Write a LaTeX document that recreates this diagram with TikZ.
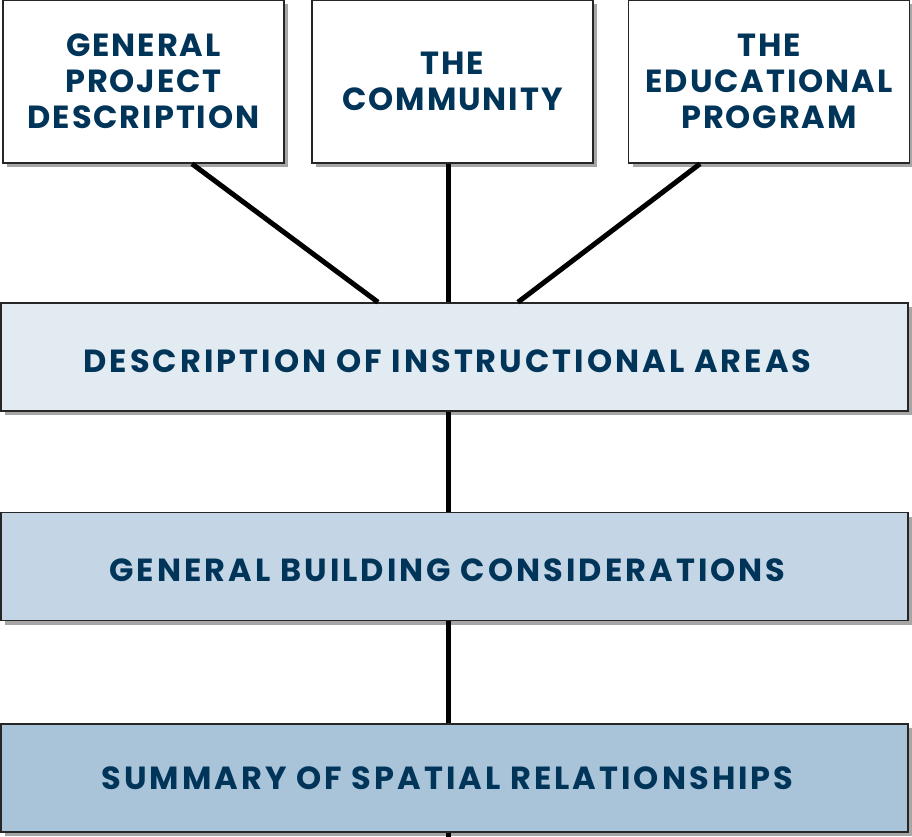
\documentclass[tikz,border=0pt]{standalone}
\usepackage{fontspec}
\setmainfont{Poppins}[UprightFont=* Bold]
\usetikzlibrary{shadows}
\definecolor{navy}{HTML}{003559}
\definecolor{fillA}{HTML}{E2EAF2}
\definecolor{fillB}{HTML}{C4D6E5}
\definecolor{fillC}{HTML}{A9C4D9}
\tikzset{
  box/.style={draw=black!85, line width=1.6pt, rectangle, inner sep=0pt,
    text=navy,
    drop shadow={shadow xshift=4pt, shadow yshift=-4pt, fill=black, opacity=0.35}},
  topbox/.style={box, fill=white, minimum width=281pt, minimum height=163pt,
    align=center, font=\fontsize{32}{36}\selectfont\addfontfeature{LetterSpace=6}},
  widebox/.style={box, minimum width=907pt, minimum height=108pt, text depth=0pt,
    font=\fontsize{32}{36}\selectfont\addfontfeature{LetterSpace=9.5}},
  link/.style={line width=5pt, black}
}
\begin{document}
\begin{tikzpicture}[x=1pt,y=-1pt]
\useasboundingbox (0,0) rectangle (912,836);
\node[topbox] (gpd) at (143.5,81.5) {GENERAL\\PROJECT\\DESCRIPTION};
\node[topbox] (com) at (452.5,81.5) {THE\\COMMUNITY};
\node[topbox] (edu) at (769,81.5) {THE\\EDUCATIONAL\\PROGRAM};
\node[widebox, fill=fillA, text height=31pt] (dia) at (454.5,357) {DESCRIPTION OF INSTRUCTIONAL AREAS\kern14pt};
\node[widebox, fill=fillB, text height=30pt] (gbc) at (454.5,566.5) {GENERAL BUILDING CONSIDERATIONS\kern14pt};
\node[widebox, fill=fillC, text height=23pt] (ssr) at (454.5,778) {SUMMARY OF SPATIAL RELATIONSHIPS\kern14pt};
\coordinate (end) at (448,840);
\draw[link] ([xshift=48.5pt]gpd.south) -- ([xshift=-76.5pt]dia.north);
\draw[link] ([xshift=-4.5pt]com.south) -- ([xshift=-6.5pt]dia.north);
\draw[link] ([xshift=-69pt]edu.south) -- ([xshift=63.5pt]dia.north);
\draw[link] ([xshift=-6.5pt]dia.south) -- ([xshift=-6.5pt]gbc.north);
\draw[link] ([xshift=-6.5pt]gbc.south) -- ([xshift=-6.5pt]ssr.north);
\draw[link] ([xshift=-6.5pt]ssr.south) -- (end);
\end{tikzpicture}
\end{document}
